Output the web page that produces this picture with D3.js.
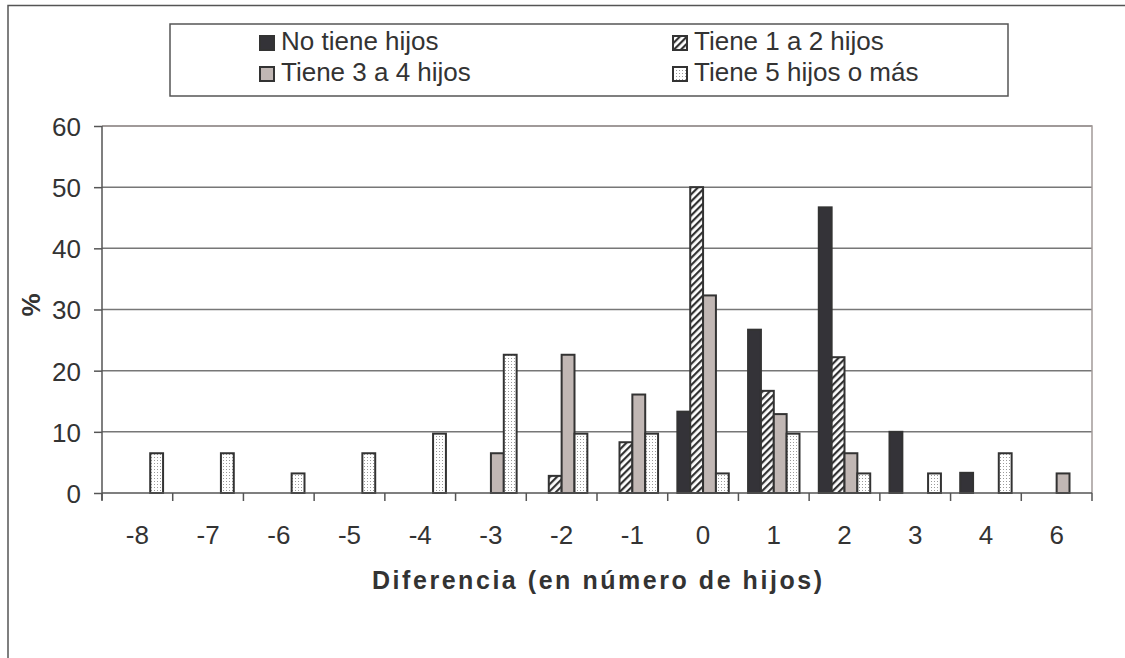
<!DOCTYPE html>
<html><head><meta charset="utf-8">
<script src="https://cdn.jsdelivr.net/npm/d3@7"></script>
<style>
html,body{margin:0;padding:0;background:#fff;}
svg{display:block;font-family:"Liberation Sans",Arial,sans-serif;}
</style></head>
<body>
<svg id="chart" width="1125" height="658"></svg>
<script>
const categories = ["-8","-7","-6","-5","-4","-3","-2","-1","0","1","2","3","4","6"];
const seriesNames = ["No tiene hijos","Tiene 1 a 2 hijos","Tiene 3 a 4 hijos","Tiene 5 hijos o más"];
const noHijos   = [0,0,0,0,0,0,0,0,13.3,26.7,46.7,10.0,3.3,0];
const hijos1a2  = [0,0,0,0,0,0,2.8,8.3,50.0,16.7,22.2,0,0,0];
const hijos3a4  = [0,0,0,0,0,6.5,22.6,16.1,32.3,12.9,6.5,0,0,3.2];
const hijos5mas = [6.5,6.5,3.2,6.5,9.7,22.6,9.7,9.7,3.2,9.7,3.2,3.2,6.5,0];
const yTicks = [0,10,20,30,40,50,60];

(function(){
const seriesValues = [noHijos, hijos1a2, hijos3a4, hijos5mas];
const svg = d3.select("#chart");
const defs = svg.append("defs");

const hatch = defs.append("pattern").attr("id","hatch").attr("patternUnits","userSpaceOnUse")
  .attr("width",5).attr("height",5).attr("patternTransform","rotate(45)");
hatch.append("rect").attr("width",5).attr("height",5).attr("fill","#fff");
hatch.append("rect").attr("x",0).attr("y",0).attr("width",2.2).attr("height",5).attr("fill","#333");

const dots = defs.append("pattern").attr("id","dots").attr("patternUnits","userSpaceOnUse")
  .attr("width",3).attr("height",3);
dots.append("rect").attr("width",3).attr("height",3).attr("fill","#fff");
dots.append("rect").attr("x",1).attr("y",1).attr("width",1).attr("height",1).attr("fill","#9a9a9a");

const fills = ["#343338","url(#hatch)","#c1b7b4","url(#dots)"];

svg.append("rect").attr("x",8).attr("y",5.5).attr("width",1200).attr("height",800)
  .attr("fill","none").attr("stroke","#555").attr("stroke-width",1.5);

const pL=102, pR=1092, pT=126, pB=493;
const x = d3.scaleBand().domain(categories).range([pL,pR]).paddingInner(0).paddingOuter(0);
const xs = d3.scaleBand().domain(d3.range(4)).range([0,x.bandwidth()]).paddingInner(0).paddingOuter(0.75);
const y = d3.scaleLinear().domain([0,60]).range([pB,pT]);

svg.append("g").selectAll("line").data(yTicks.filter(t=>t>0)).join("line")
  .attr("x1",pL).attr("x2",pR).attr("y1",d=>y(d)).attr("y2",d=>y(d))
  .attr("stroke","#777").attr("stroke-width",1.5);
svg.append("path").attr("d",`M${pL},${pT}H${pR}V${pB}`)
  .attr("fill","none").attr("stroke","#a39b99").attr("stroke-width",1.5);

const barData = [];
seriesValues.forEach((vals,s)=>vals.forEach((v,i)=>{ if(v>0) barData.push({s,cat:categories[i],v}); }));
svg.append("g").selectAll("rect").data(barData).join("rect")
  .attr("x",d=>x(d.cat)+xs(d.s)).attr("width",xs.bandwidth())
  .attr("y",d=>y(d.v)).attr("height",d=>y(0)-y(d.v))
  .attr("fill",d=>fills[d.s]).attr("stroke","#333").attr("stroke-width",2);

const yAxis = svg.append("g").attr("transform",`translate(${pL},0)`)
  .call(d3.axisLeft(y).tickValues(yTicks).tickSize(8).tickPadding(13).tickFormat(d3.format("d")));
yAxis.select(".domain").attr("stroke","#555").attr("stroke-width",1.5).attr("d",`M0,${pT}V${pB+7}`);
yAxis.selectAll(".tick line").attr("stroke","#555").attr("stroke-width",1.5);
yAxis.selectAll(".tick text").attr("font-size",26).attr("fill","#333").attr("dy","0.36em");

const xAxisG = svg.append("g").attr("transform",`translate(0,${pB})`);
xAxisG.append("line").attr("x1",pL).attr("x2",pR).attr("y1",0).attr("y2",0)
  .attr("stroke","#555").attr("stroke-width",1.5);
const boundaries = categories.map(c=>x(c)).concat([pR]);
xAxisG.selectAll("line.tk").data(boundaries).join("line").attr("class","tk")
  .attr("x1",d=>d).attr("x2",d=>d).attr("y1",0).attr("y2",8)
  .attr("stroke","#555").attr("stroke-width",1.5);
xAxisG.selectAll("text").data(categories).join("text")
  .attr("x",d=>x(d)+x.bandwidth()/2).attr("y",51)
  .attr("text-anchor","middle").attr("font-size",26).attr("fill","#333").text(d=>d);

svg.append("text").attr("x",(pL+pR)/2).attr("y",589).attr("text-anchor","middle")
  .attr("font-size",25).attr("font-weight","bold").attr("fill","#333")
  .attr("textLength",450).attr("lengthAdjust","spacing")
  .text("Diferencia (en número de hijos)");
svg.append("text").attr("transform","translate(40,305) rotate(-90)").attr("text-anchor","middle")
  .attr("font-size",26).attr("font-weight","bold").attr("fill","#333").text("%");

svg.append("rect").attr("x",170).attr("y",24).attr("width",838).attr("height",72)
  .attr("fill","#fff").attr("stroke","#555").attr("stroke-width",1.5);
const legPos = [[259,50],[672,50],[259,81],[672,81]];
const leg = svg.append("g").selectAll("g").data(seriesNames).join("g")
  .attr("transform",(d,i)=>`translate(${legPos[i][0]},${legPos[i][1]})`);
leg.append("rect").attr("x",1).attr("y",-14).attr("width",14).attr("height",14)
  .attr("fill",(d,i)=>fills[i]).attr("stroke","#333").attr("stroke-width",2);
leg.append("text").attr("x",22).attr("y",0).attr("font-size",26).attr("fill","#333").text(d=>d);
})();
</script>
</body></html>
